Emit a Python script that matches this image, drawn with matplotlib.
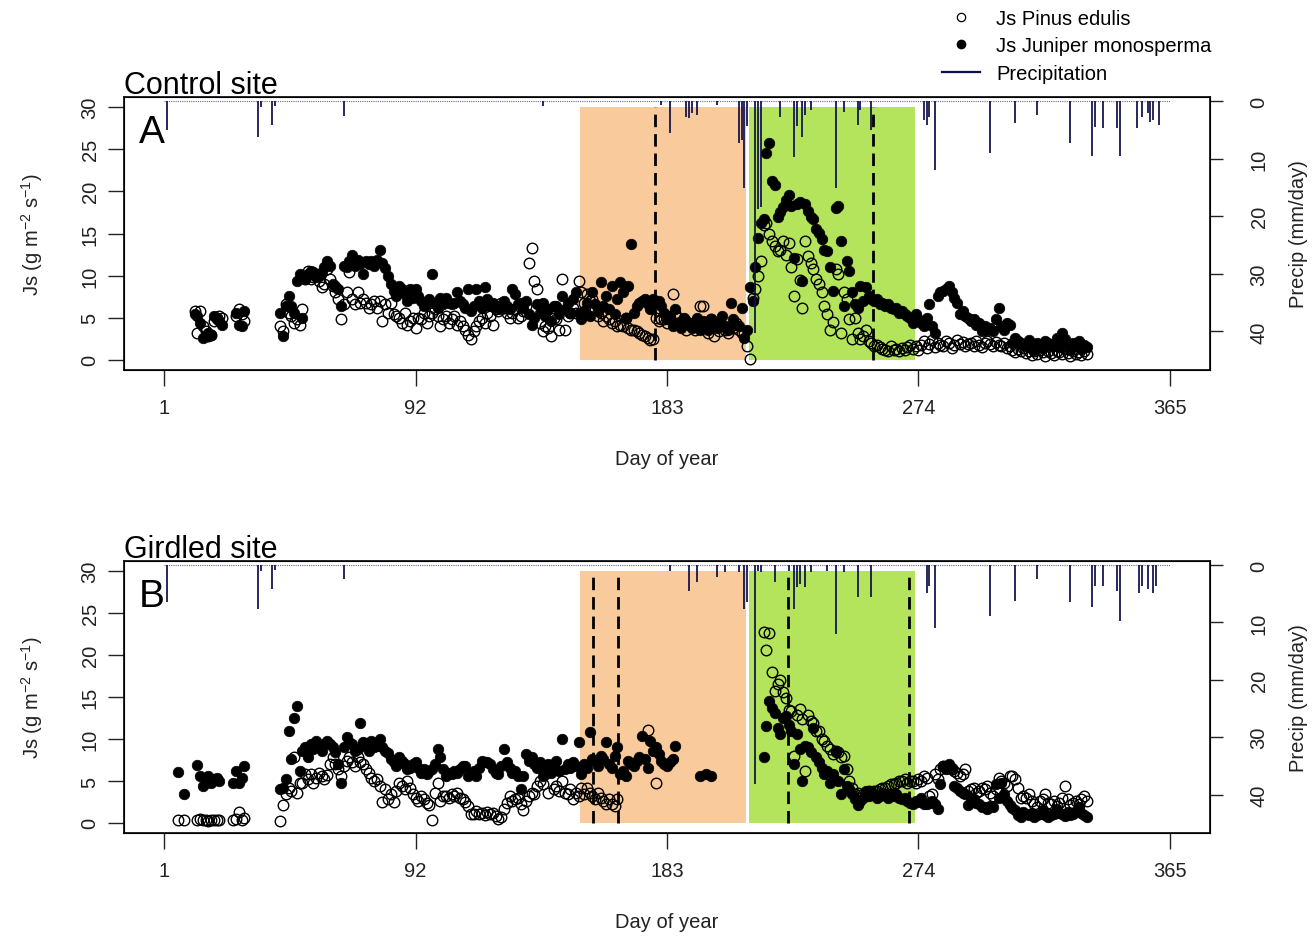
import numpy as np
import matplotlib
matplotlib.use("Agg")
import matplotlib.pyplot as plt
from matplotlib.lines import Line2D

plt.rcParams['font.family'] = ['Liberation Sans', 'DejaVu Sans']
plt.rcParams['mathtext.default'] = 'regular'

# ---------------- data ----------------
# control site (A): first day of each run of daily values
a_starts = [12, 27, 43]
a_pine_1 = [5.8, 3.2, 5.8, 4.0, 3.4, 2.8, 3.0, 4.6, 5.0, 5.2, 5.0]
a_jun_1 = [5.4, 5.2, 4.4, 2.6, 2.8, 3.2, 3.0, 5.2, 4.8, 4.6, 4.2]
a_pine_2 = [5.2, 6.0, 5.4, 4.6]
a_jun_2 = [5.6, 4.2, 4.0, 5.8]
a_pine_3 = [4.0, 3.4, 6.6, 5.6, 5.2, 4.4, 4.8, 4.2, 6.0, 9.6,
            10.6, 9.6, 9.8, 10.0, 9.4, 8.6, 9.0, 10.8, 9.6, 8.8,
            8.0, 7.2, 4.8, 6.6, 8.0, 10.4, 7.2, 6.6, 8.0, 6.8,
            7.2, 6.8, 6.2, 6.6, 7.0, 6.2, 7.0, 4.6, 6.6, 5.6,
            6.8, 5.4, 5.2, 5.0, 4.4, 5.6, 4.2, 4.6, 5.0, 3.8,
            5.0, 4.8, 5.6, 4.4, 5.2, 5.6, 6.0, 5.2, 4.0, 4.8,
            5.2, 4.4, 4.8, 5.2, 4.2, 4.6, 4.0, 3.6, 3.0, 2.5,
            3.4, 4.0, 4.6, 5.0, 4.4, 5.6, 5.2, 4.2, 6.0, 5.8,
            6.8, 6.2, 5.6, 5.0, 5.6, 6.0, 5.0, 5.2, 5.8, 6.4,
            11.5, 13.3, 9.4, 8.4, 4.4, 3.4, 4.0, 3.8, 2.8, 5.0,
            4.8, 3.6, 9.6, 3.6, 5.2, 5.6, 6.2, 5.6, 9.4, 8.0,
            6.8, 7.8, 7.0, 7.2, 6.0, 5.2, 5.6, 4.6, 5.2, 4.8,
            4.4, 4.6, 4.0, 4.2, 4.0, 5.0, 3.8, 3.6, 3.6, 3.4,
            3.2, 3.0, 2.8, 2.6, 2.4, 2.5, 5.0, 4.6, 4.8, 4.8,
            4.4, 5.0, 7.8, 5.6, 5.0, 4.0, 4.8, 3.6, 4.4, 4.0,
            3.6, 4.2, 6.4, 6.4, 4.0, 3.2, 4.8, 2.8, 4.0, 3.4,
            4.0, 3.6, 3.2, 4.0, 3.8, 4.4, 3.6, 3.2, 3.2, 1.7,
            0.1, 7.4, 8.4, 10.0, 11.7, 16.0, 16.3, 14.9, 14.1, 13.5,
            12.9, 13.1, 14.1, 12.5, 13.9, 11.0, 7.6, 12.0, 9.5, 6.2,
            14.1, 12.3, 11.5, 10.8, 9.6, 9.0, 8.0, 6.4, 5.5, 3.6,
            4.5, 10.8, 10.2, 3.2, 8.0, 7.2, 4.8, 2.5, 5.0, 3.2,
            2.5, 2.8, 3.6, 2.2, 2.0, 1.7, 1.8, 1.5, 1.3, 1.2,
            1.1, 1.6, 1.2, 1.3, 1.0, 1.4, 1.2, 1.5, 1.8, 1.3,
            1.6, 1.2, 1.8, 2.2, 1.4, 1.9, 2.4, 1.5, 2.0, 1.8,
            1.6, 2.2, 2.0, 1.4, 1.8, 2.4, 1.9, 2.1, 1.6, 1.9,
            2.0, 1.7, 2.3, 1.8, 1.5, 2.0, 2.2, 1.9, 1.6, 2.1,
            1.8, 1.6, 2.0, 1.4, 1.7, 1.2, 0.9, 1.3, 1.0, 1.4,
            0.8, 1.1, 0.6, 1.0, 0.7, 1.2, 0.9, 0.5, 1.0, 0.8,
            0.6, 1.1, 0.9, 0.7, 1.3, 0.8, 0.5, 1.0, 0.7, 0.9,
            0.6, 1.0, 0.7]
a_jun_3 = [5.6, 2.8, 6.4, 7.6, 6.4, 5.6, 9.4, 10.2, 5.0, 9.6,
           10.2, 10.6, 10.4, 9.8, 10.0, 10.4, 11.0, 11.7, 11.2, 9.0,
           8.8, 8.4, 6.4, 11.2, 11.0, 11.7, 12.5, 11.1, 11.9, 11.4,
           10.2, 11.7, 11.4, 11.7, 11.1, 11.8, 13.1, 11.5, 10.9, 10.0,
           9.0, 8.2, 7.6, 8.8, 8.4, 7.8, 7.0, 8.4, 7.4, 8.4,
           7.6, 7.0, 6.4, 6.8, 7.2, 10.2, 6.8, 6.2, 7.4, 6.6,
           7.4, 6.8, 6.6, 6.8, 8.0, 7.0, 6.6, 6.2, 8.4, 5.8,
           6.4, 8.4, 7.0, 6.2, 8.6, 7.2, 6.4, 6.8, 6.2, 6.4,
           6.0, 7.0, 6.4, 6.0, 8.4, 7.8, 6.6, 6.8, 6.2, 7.0,
           5.4, 4.2, 5.0, 6.6, 5.6, 6.8, 5.2, 6.0, 4.6, 6.4,
           6.4, 5.4, 7.6, 6.0, 6.8, 5.6, 7.2, 8.0, 5.6, 4.8,
           5.8, 6.8, 5.2, 8.0, 6.6, 5.8, 9.2, 6.4, 7.6, 6.0,
           8.8, 5.4, 7.2, 9.2, 8.0, 5.0, 8.8, 13.7, 5.6, 6.4,
           6.8, 7.0, 7.2, 6.6, 6.0, 7.2, 6.8, 7.0, 6.4, 5.6,
           4.8, 5.2, 4.0, 6.0, 4.4, 3.8, 5.0, 4.6, 4.2, 3.8,
           4.4, 5.0, 3.6, 4.6, 4.0, 3.6, 4.8, 4.2, 3.8, 4.4,
           5.2, 4.0, 3.6, 6.8, 4.8, 4.2, 4.0, 6.2, 2.6, 3.6,
           8.6, 7.0, 11.0, 14.5, 16.3, 16.7, 24.6, 25.8, 21.2, 20.8,
           17.0, 17.5, 18.1, 19.0, 19.6, 18.3, 12.1, 18.5, 18.7, 9.4,
           18.5, 17.7, 17.0, 16.7, 15.5, 15.1, 14.3, 13.0, 12.9, 11.0,
           8.2, 18.0, 18.3, 14.1, 6.4, 11.7, 10.6, 8.0, 6.6, 6.2,
           8.8, 7.0, 8.6, 7.6, 7.2, 7.0, 7.2, 6.6, 6.8, 6.4,
           6.6, 6.2, 6.0, 6.2, 5.6, 5.8, 5.4, 5.2, 5.0, 4.4,
           5.4, 4.8, 4.4, 4.0, 5.0, 6.6, 4.0, 3.2, 7.6, 8.0,
           8.2, 8.4, 8.8, 8.0, 7.4, 6.8, 5.4, 5.8, 5.2, 5.0,
           4.6, 4.8, 4.2, 4.4, 3.4, 4.0, 3.6, 3.8, 3.4, 4.8,
           6.2, 4.0, 3.6, 4.4, 4.2, 2.0, 2.6, 2.2, 2.0, 1.8,
           1.7, 2.4, 1.5, 1.2, 2.0, 1.7, 1.4, 2.2, 2.0, 1.6,
           1.7, 2.6, 1.5, 3.2, 2.5, 1.9, 1.2, 2.0, 1.6, 2.2,
           1.3, 1.8, 1.5]

# girdled site (B)
nan = np.nan
b_starts = [6, 13, 26, 43, 195, 218]
b_pine_1 = [0.3, nan, 0.3]
b_jun_1 = [6.1, nan, 3.4]
b_pine_2 = [0.4, 0.5, 0.3, 0.4, 0.2, 0.3, 0.4, 0.3, 0.4]
b_jun_2 = [6.9, 5.6, 4.4, 5.0, 5.6, 4.8, 5.2, 5.4, 5.0]
b_pine_3 = [0.4, 0.5, 1.3, 0.4, 0.6]
b_jun_3 = [4.8, 6.2, 4.8, 5.4, 6.8]
b_pine_4 = [0.2, 2.1, 3.4, 4.2, 3.8, 7.8, 3.6, 4.8, 4.8, 5.8,
            5.2, 5.8, 4.8, 5.4, 6.0, 5.6, 5.2, 5.7, 7.0, 7.8,
            7.0, 6.4, 5.6, 6.8, 7.4, 7.8, 7.2, 6.8, 7.8, 7.2,
            7.0, 6.4, 6.0, 5.4, 5.0, 5.2, 4.4, 2.5, 4.0, 2.8,
            3.4, 2.5, 3.8, 4.8, 4.4, 4.0, 5.0, 4.2, 3.4, 3.0,
            2.6, 3.2, 2.8, 2.4, 2.1, 0.3, 3.6, 4.8, 2.6, 3.2,
            3.2, 3.0, 3.4, 3.2, 3.6, 3.0, 2.8, 2.5, 2.0, 1.1,
            1.1, 1.4, 1.1, 1.2, 1.0, 1.3, 1.1, 1.2, 0.8, 0.5,
            0.7, 1.7, 2.4, 3.2, 2.6, 2.8, 3.0, 2.2, 1.5, 2.6,
            3.2, 3.6, 3.4, 4.4, 5.0, 4.6, 5.8, 3.6, 6.6, 4.0,
            4.4, 3.8, 5.0, 3.6, 3.4, 4.0, 2.8, 3.6, 3.2, 4.2,
            3.4, 4.2, 3.6, 3.2, 2.8, 3.6, 3.0, 2.6, 2.3, 2.8,
            2.3, 2.0, 2.8, nan, nan, nan, nan, nan, nan, nan,
            nan, nan, nan, 11.1, nan, nan, 4.8, nan, nan, nan,
            nan, nan, nan, nan]
b_jun_4 = [4.0, 4.2, 5.2, 10.9, 7.6, 12.5, 13.9, 6.2, 8.6, 9.0,
           7.9, 9.4, 8.8, 9.8, 9.2, 8.6, 9.4, 9.8, 9.4, 9.0,
           8.4, 7.0, 4.7, 9.0, 10.2, 9.6, 9.4, 8.6, 8.8, 11.9,
           9.6, 9.2, 8.6, 9.8, 9.0, 9.2, 10.0, 9.0, 8.6, 8.3,
           7.6, 7.2, 6.8, 7.8, 7.4, 7.0, 6.4, 6.6, 7.0, 7.2,
           6.6, 6.0, 6.4, 5.8, 6.2, 6.4, 7.0, 8.8, 7.8, 6.4,
           5.6, 6.0, 5.8, 6.2, 6.0, 6.4, 6.8, 6.8, 5.6, 6.0,
           6.2, 5.6, 6.6, 7.4, 7.2, 7.2, 7.0, 6.4, 6.0, 5.8,
           6.8, 8.8, 7.2, 6.6, 6.0, 6.2, 5.6, 4.0, 5.6, 8.2,
           7.4, 7.8, 7.0, 6.6, 7.2, 5.6, 6.4, 7.0, 6.0, 6.8,
           7.4, 6.2, 10.0, 6.4, 7.0, 6.6, 7.2, 6.8, 9.6, 5.8,
           7.0, 6.6, 10.8, 7.6, 7.4, 6.8, 8.0, 7.6, 9.6, 7.0,
           6.6, 8.0, 9.0, 5.8, 6.2, 5.6, 7.4, 7.0, 6.8, 7.4,
           7.8, 10.4, 7.6, 6.6, 9.8, 8.6, 9.0, 8.2, 7.4, 7.0,
           6.8, 7.2, 7.6, 9.2]
b_pine_5 = [nan, nan, nan, nan, nan]
b_jun_5 = [5.6, nan, 5.8, nan, 5.6]
b_pine_6 = [22.8, 20.6, 22.6, 18.0, 15.7, 16.5, 17.0, 15.6, 14.9, 13.5,
            13.3, 8.0, 12.9, 13.6, 12.4, 6.2, 12.9, 12.2, 11.9, 10.9,
            10.9, 10.0, 9.8, 9.2, 8.8, 8.2, 8.6, 8.4, 7.8, 8.0,
            6.4, 5.0, 4.2, 3.4, 3.6, 3.0, 3.4, 3.6, 3.8, 3.6,
            3.8, 3.8, 4.0, 4.2, 4.2, 4.4, 4.6, 4.6, 4.8, 5.0,
            5.0, 5.2, 4.8, 5.0, 5.0, 4.8, 5.2, 5.0, 5.6, 5.4,
            3.2, 3.4, 5.8, 5.2, 6.4, 6.8, 6.6, 6.6, 6.4, 6.2,
            6.0, 5.6, 5.8, 6.4, 3.8, 4.0, 4.2, 3.6, 3.8, 4.2,
            4.0, 4.4, 3.6, 3.2, 4.0, 5.4, 5.0, 4.8, 4.4, 5.6,
            5.6, 5.2, 4.2, 3.0, 3.2, 3.0, 3.4, 2.6, 2.2, 1.9,
            2.6, 2.8, 3.4, 2.4, 2.2, 2.6, 2.0, 2.4, 3.0, 4.4,
            2.8, 2.1, 2.4, 2.6, 2.2, 2.8, 3.2, 2.6]
b_jun_6 = [7.8, 11.5, 14.5, 13.7, 13.1, 11.3, 10.6, 12.5, 12.7, 11.7,
           10.9, 7.0, 10.6, 8.8, 5.0, 9.2, 9.0, 8.4, 11.3, 7.8,
           7.2, 6.6, 5.8, 6.2, 4.8, 5.8, 8.4, 5.0, 3.4, 6.4,
           4.4, 4.0, 3.4, 2.8, 2.1, 2.6, 3.0, 3.8, 3.2, 3.4,
           3.4, 3.0, 3.2, 3.6, 3.4, 3.0, 3.4, 3.2, 3.4, 3.0,
           2.8, 3.0, 2.6, 2.4, 2.3, 2.6, 2.5, 3.0, 2.3, 2.2,
           2.4, 2.6, 2.3, 1.7, 4.6, 6.8, 6.4, 7.0, 6.6, 4.4,
           4.2, 3.8, 3.6, 3.4, 2.1, 2.6, 2.8, 2.4, 2.3, 1.9,
           1.9, 1.7, 2.0, 1.9, 4.6, 3.0, 4.8, 3.4, 2.6, 2.1,
           1.8, 1.5, 1.0, 0.7, 1.3, 1.1, 0.9, 1.2, 0.7, 1.0,
           1.1, 1.5, 1.0, 0.7, 0.9, 1.1, 1.7, 1.2, 1.1, 0.8,
           1.3, 1.0, 1.1, 1.4, 1.9, 1.2, 0.9, 0.7]

# daily precipitation (mm/day)
a_rain_day = [2, 35, 36, 40, 41, 66, 138, 181, 184, 190, 191, 192, 194, 201,
              209, 210, 211, 212, 215, 216, 217, 224, 229, 230, 232, 233, 235,
              244, 247, 252, 253, 257, 276, 277, 278, 280, 300, 309, 317, 329,
              337, 338, 341, 346, 347, 353, 355, 357, 358, 359, 361]
a_rain_mm = [5.0, 6.2, 1.0, 4.2, 0.8, 2.6, 0.9, 0.7, 5.6, 2.7, 3.0, 2.1, 2.4, 0.7,
             7.3, 6.8, 15.1, 4.4, 40.3, 18.7, 18.4, 2.7, 9.7, 4.4, 6.2, 2.4, 1.6,
             15.1, 1.9, 4.2, 1.6, 5.0, 3.3, 4.2, 2.7, 12.0, 9.1, 3.9, 2.4, 7.3,
             9.6, 4.5, 4.7, 4.7, 9.6, 4.7, 2.7, 2.1, 3.6, 3.3, 4.2]
b_rain_day = [2, 35, 36, 40, 41, 66, 184, 191, 194, 201, 204, 209, 211, 212,
              215, 216, 217, 222, 227, 229, 230, 231, 233, 235, 241, 244, 247,
              252, 257, 277, 278, 280, 300, 309, 317, 329, 337, 338, 341, 346,
              347, 354, 355, 357, 359, 360]
b_rain_mm = [6.5, 7.7, 1.0, 4.2, 0.8, 2.4, 1.0, 4.5, 3.0, 2.1, 1.2, 1.2, 7.7, 6.5,
             38.2, 1.0, 1.2, 3.0, 1.0, 7.7, 3.9, 3.3, 3.9, 1.2, 1.0, 12.0, 1.2,
             5.6, 5.6, 4.8, 3.6, 10.9, 8.8, 6.2, 2.4, 6.5, 7.4, 3.6, 3.6, 4.5,
             9.7, 4.8, 3.6, 4.2, 4.8, 3.6]

# shaded periods (day of year) and dashed markers
dry_period = [151.5, 211.5]
wet_period = [212.8, 272.8]
a_dash_days = [178.6, 257.4]
b_dash_days = [156.3, 165.4, 226.9, 270.6]

day_ticks = [1, 92, 183, 274, 365]

ORANGE = '#F9CB9C'
GREEN = '#B4E45B'
NAVY = '#0E0E4A'
FS = 14.5
W, H = 1315, 937


def stitch(starts, segs):
    x, y = [], []
    for s, seg in zip(starts, segs):
        x += list(range(s, s + len(seg)))
        y += list(seg)
    return np.array(x, float), np.array(y, float)


fig = plt.figure(figsize=(W / 100, H / 100), dpi=100)


def panel(box, title, letter, pine, jun, rain_day, rain_mm, dash_days):
    left, top, right, bottom = box
    ax = fig.add_axes([left / W, 1 - bottom / H, (right - left) / W, (bottom - top) / H])
    ax.fill_between(dry_period, 0, 30, color=ORANGE, lw=0, zorder=0)
    ax.fill_between(wet_period, 0, 30, color=GREEN, lw=0, zorder=0)
    ax.vlines(dash_days, 0, 30, colors='black', linestyles=(0, (4.5, 2.5)), lw=2, zorder=2)
    ax.plot(pine[0], pine[1], 'o', mfc='none', mec='black', ms=7.6, mew=1.0, zorder=3)
    ax.plot(jun[0], jun[1], 'o', mfc='black', mec='black', ms=7.6, mew=0.5, zorder=3)
    ax.set_xlim(-13.56, 379.56)
    ax.set_ylim(-1.2, 31.2)
    ax.set_xticks(day_ticks)
    ax.set_yticks(range(0, 31, 5))
    ax.tick_params(axis='x', length=11.5, width=1, pad=9, labelsize=FS, colors='#222222')
    ax.tick_params(axis='y', length=11.5, width=1, pad=6, labelsize=FS, colors='#222222',
                   labelrotation=90)
    for t in ax.get_yticklabels():
        t.set_va('center')
    for s in ax.spines.values():
        s.set_linewidth(1.2)

    ax2 = ax.twinx()
    ax2.hlines(0, 1, 365, colors='#6a6a88', linestyles=(0, (1, 1)), lw=0.8)
    ax2.vlines(rain_day, 0, rain_mm, colors=NAVY, lw=1.25)
    ax2.set_ylim(46.7, -0.7)
    ax2.set_yticks(range(0, 41, 10))
    ax2.tick_params(axis='y', length=9.5, width=1, pad=19, labelsize=FS, colors='#222222',
                    labelrotation=90)
    for t in ax2.get_yticklabels():
        t.set_va('center')

    ax.text(0.0138, 0.835, letter, transform=ax.transAxes, fontsize=28,
            va='baseline', ha='left')
    fig.text(left / W, 1 - (top - 4) / H, title, fontsize=22, va='baseline', ha='left')
    cy = 1 - (top + bottom) / 2 / H
    fig.text(32 / W, cy, r'Js (g m$^{-2}$ s$^{-1}$)', rotation=90, fontsize=FS,
             ha='center', va='center', color='#222222')
    fig.text(1298 / W, cy, 'Precip (mm/day)', rotation=90, fontsize=FS,
             ha='center', va='center', color='#222222')
    fig.text((left + right) / 2 / W, 1 - (bottom + 89) / H, 'Day of year', fontsize=FS,
             ha='center', va='center', color='#222222')
    return ax


pine_a = stitch(a_starts, [a_pine_1, a_pine_2, a_pine_3])
jun_a = stitch(a_starts, [a_jun_1, a_jun_2, a_jun_3])
pine_b = stitch(b_starts, [b_pine_1, b_pine_2, b_pine_3, b_pine_4, b_pine_5, b_pine_6])
jun_b = stitch(b_starts, [b_jun_1, b_jun_2, b_jun_3, b_jun_4, b_jun_5, b_jun_6])

panel((124, 98, 1210, 371), 'Control site', 'A', pine_a, jun_a, a_rain_day, a_rain_mm, a_dash_days)
panel((124, 562, 1210, 834), 'Girdled site', 'B', pine_b, jun_b, b_rain_day, b_rain_mm, b_dash_days)

handles = [Line2D([], [], ls='none', marker='o', mfc='none', mec='black', ms=6, mew=0.9),
           Line2D([], [], ls='none', marker='o', mfc='black', mec='black', ms=6),
           Line2D([], [], color=NAVY, lw=1.6)]
fig.legend(handles, ['Js Pinus edulis', 'Js Juniper monosperma', 'Precipitation'],
           loc='upper left', bbox_to_anchor=(942 / W, 1 - 10 / H), frameon=False,
           fontsize=FS, handlelength=1.9, handletextpad=0.8, labelspacing=0.42,
           borderpad=0, borderaxespad=0)

fig.savefig('out.png', dpi=100)
